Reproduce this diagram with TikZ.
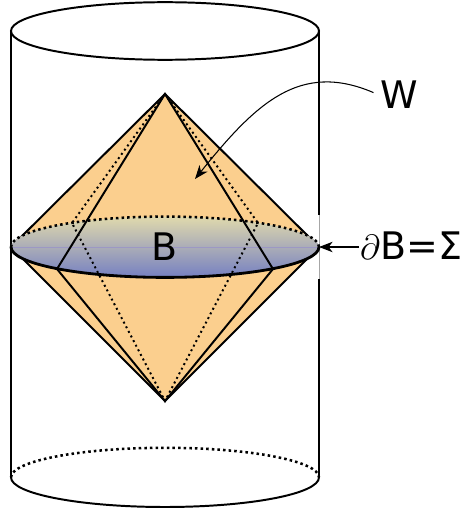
\documentclass[tikz,border=0pt]{standalone}
\usepackage{fontspec}
\setmainfont{DejaVu Sans}
\usetikzlibrary{arrows.meta, positioning, calc}
\definecolor{cone}{HTML}{FBCF8E}
\definecolor{disctop}{HTML}{E0D9AC}
\definecolor{discbot}{HTML}{7580C2}
\definecolor{discmid}{HTML}{9C98C4}
\tikzset{
  every picture/.style={line width=1.4pt},
  rim/.style={draw=black, line width=1.4pt},
  edge/.style={draw=black, line width=1.4pt, line join=miter},
  hidden/.style={draw=black, line width=1.4pt, dash pattern=on 1.4pt off 2.3pt},
  backrim/.style={draw=black, line width=1.8pt, dash pattern=on 1.8pt off 2.2pt},
  frontrim/.style={draw=black, line width=2pt},
  arrow/.style={-{Stealth[length=3.4mm, width=2.6mm, inset=1mm]}, draw=black, line width=0.75pt},
  label/.style={font=\fontsize{27}{29}\selectfont, inner sep=0pt},
}

\begin{document}
\begin{tikzpicture}[x=1cm, y=1cm]
  \useasboundingbox (0,0) rectangle (11.55,12.775);
  % corners of the diamond
  \coordinate (apex) at (4.125,10.425);
  \coordinate (foot) at (4.125,2.75);
  \coordinate (west) at (0.275,6.6);
  \coordinate (east) at (7.975,6.6);
  \coordinate (frontl) at (1.425,6.05);
  \coordinate (frontr) at (6.825,6.05);
  \coordinate (backl) at (1.8,7.2);
  \coordinate (backr) at (6.45,7.2);
  \coordinate (wtip) at (4.875,8.3);
  % cylinder
  \draw[rim] (4.125,12) ellipse (3.85 and 0.72);
  \draw[rim] (0.275,12) -- (0.275,0.84) arc[start angle=180, end angle=360, x radius=3.85, y radius=0.74] -- (7.975,12);
  \draw[backrim] (0.275,0.84) arc[start angle=180, end angle=0, x radius=3.85, y radius=0.74];
  \draw[white, line width=2pt] (7.975,5.8) -- (7.975,7.4);
  \draw[black!35, line width=0.5pt] (7.975,5.8) -- (7.975,7.4);
  % cone
  \fill[cone] (apex) -- (west) -- (foot) -- (east) -- cycle;
  \draw[edge] (apex) -- (west) -- (foot) -- (east) -- cycle;
  % disc
  \shade[top color=disctop, bottom color=discbot] (4.125,6.6) ellipse (3.85 and 0.76);
  \draw[discmid, line width=0.5pt] (west) -- (east);
  \draw[backrim] (west) arc[start angle=180, end angle=0, x radius=3.85, y radius=0.76];
  \draw[frontrim] (west) arc[start angle=180, end angle=360, x radius=3.85, y radius=0.76];
  % lines over the disc
  \draw[edge] (apex) -- (frontl) -- (foot) -- (frontr) -- cycle;
  \draw[hidden] (apex) -- (backl) -- (foot) -- (backr) -- cycle;
  % labels
  \node[label] (disclabel) at (4.125,6.6) {B};
  \node[label] (wlabel) at (9.97,10.4) {W};
  \node[label, anchor=base west] (sigmalabel) at (8.98,6.275) {$\partial$B=Σ};
  \draw[arrow, shorten <=1.5mm] (wlabel.west) .. controls (7.5,11.25) and (6.4,10.2) .. (wtip);
  \draw[arrow] (sigmalabel.west |- east) -- (east);
\end{tikzpicture}
\end{document}
